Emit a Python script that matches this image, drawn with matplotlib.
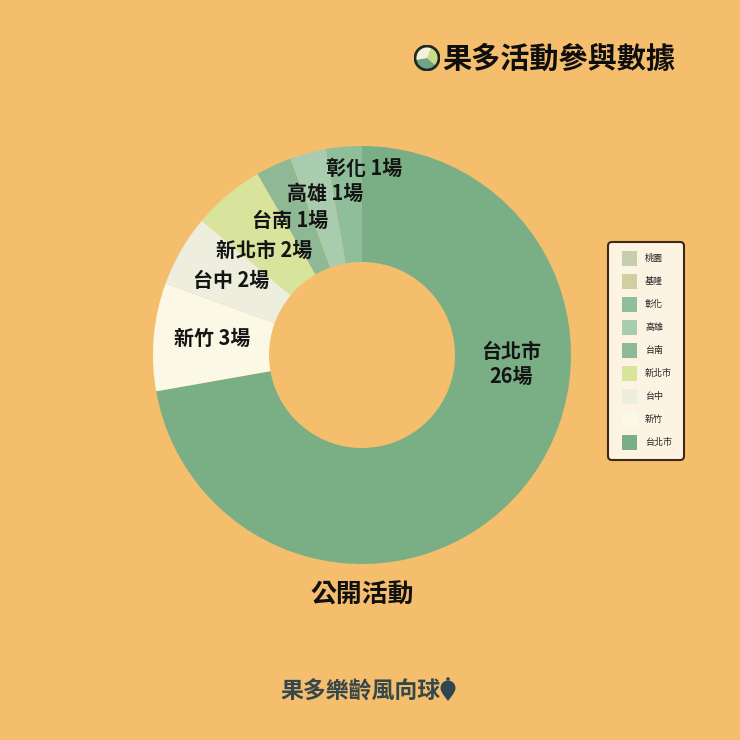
import matplotlib
matplotlib.use("Agg")
import matplotlib.pyplot as plt
from matplotlib.patches import Patch, Circle, Polygon, FancyBboxPatch

plt.rcParams['font.family'] = ['Noto Sans CJK TC', 'DejaVu Sans']

BG = '#F5BE6D'
categories = ['台北市', '新竹', '台中', '新北市', '台南', '高雄', '彰化', '基隆', '桃園']
counts = [26, 3, 2, 2, 1, 1, 1, 0, 0]
colors = ['#7AAF85', '#FBF9E6', '#EDEEDD', '#D8E49C', '#8FB994', '#A9CBAE', '#8FBF9A', '#CFCFA0', '#C5CFAF']
slice_labels = ['台北市\n26場', '新竹 3場', '台中 2場', '新北市 2場', '台南 1場', '高雄 1場', '彰化 1場']
label_px = [(511, 364), (212, 338), (231, 280), (264, 250), (290, 220), (325, 193), (364, 168)]
icon_values = [36, 30, 34]
icon_colors = ['#6FA486', '#C9DC8C', '#F3F1DC']

W = H = 740
fig = plt.figure(figsize=(7.4, 7.4), dpi=100, facecolor=BG)

# pie axes
cx, cy, R = 362, 355, 209
ax = fig.add_axes([(cx - R) / W, 1 - (cy + R) / H, 2 * R / W, 2 * R / H])
wedges, _ = ax.pie(counts, colors=colors, startangle=90, counterclock=False, radius=1,
                   wedgeprops=dict(width=116 / 209, linewidth=0))
ax.set_xlim(-1, 1)
ax.set_ylim(-1, 1)
ax.set_aspect('equal')
ax.axis('off')

for txt, (x, y) in zip(slice_labels, label_px):
    fig.text(x / W, 1 - y / H, txt, ha='center', va='center', fontsize=14.4,
             fontweight='bold', color='#141414', linespacing=1.25)

fig.text(362 / W, 1 - 595 / H, '公開活動', ha='center', va='center', fontsize=18.6,
         fontweight='bold', color='#111111')
fig.text(559 / W, 1 - 59 / H, '果多活動參與數據', ha='center', va='center', fontsize=21,
         fontweight='black', color='#0E0E0E')
fig.text(361 / W, 1 - 692 / H, '果多樂齡風向球', ha='center', va='center', fontsize=16.5,
         fontweight='bold', color='#35474A')

# title icon
ir = 13
iax = fig.add_axes([(427 - ir) / W, 1 - (58 + ir) / H, 2 * ir / W, 2 * ir / H])
iax.pie(icon_values, colors=icon_colors, startangle=190, radius=0.9,
        wedgeprops=dict(linewidth=0))
iax.add_patch(Circle((0, 0), 0.92, fill=False, ec='#1F2A24', lw=2))
iax.set_xlim(-1, 1)
iax.set_ylim(-1, 1)
iax.axis('off')

# overlay in pixel coordinates: balloon icon and legend frame
oax = fig.add_axes([0, 0, 1, 1])
oax.set_xlim(0, W)
oax.set_ylim(H, 0)
oax.axis('off')
oax.patch.set_alpha(0)
oax.add_patch(Circle((448, 688), 7.5, fc='#2F4650', ec='none'))
oax.add_patch(Polygon([(442, 693), (454, 693), (448, 701)], fc='#2F4650', ec='none'))
oax.add_patch(Circle((448, 679), 1.8, fc='#2F4650', ec='none'))
oax.add_patch(FancyBboxPatch((612, 246), 68, 210, boxstyle='round,pad=4,rounding_size=4',
                             fc='#FDF3E3', ec='#3A2A14', lw=1.5))

# legend
handles = [Patch(facecolor=c, edgecolor='none', label=l) for c, l in zip(colors, categories)][::-1]
leg = fig.legend(handles=handles, loc='upper left', bbox_to_anchor=(622 / W, 1 - 250.5 / H),
                 fontsize=6.5, frameon=False, handlelength=1.66, handleheight=2.18,
                 labelspacing=0.886, handletextpad=0.89, borderpad=0, borderaxespad=0,
                 alignment='left')
for t in leg.get_texts():
    t.set_color('#222222')
    t.set_fontweight('medium')

fig.savefig('out.png', dpi=100, facecolor=BG)
